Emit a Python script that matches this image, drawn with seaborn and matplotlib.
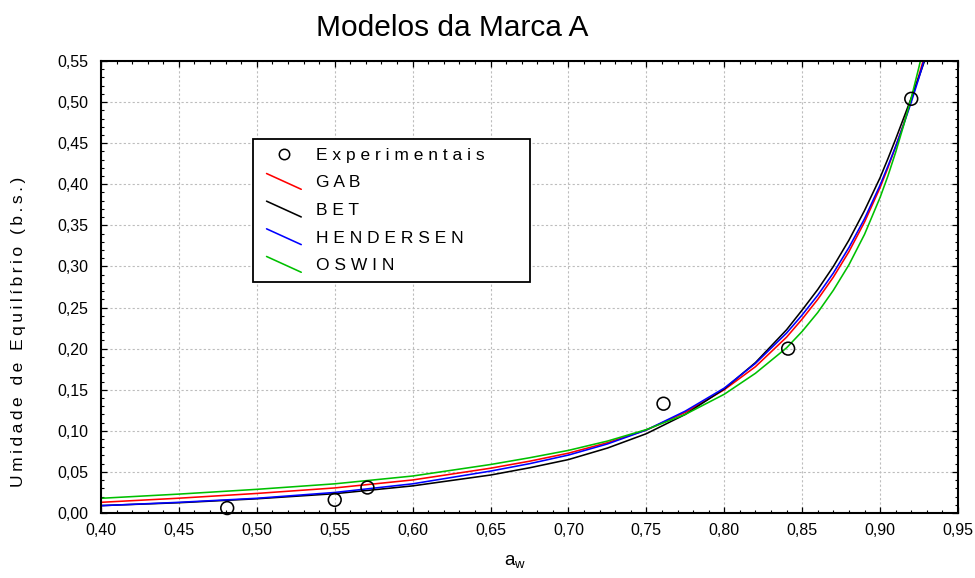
import numpy as np
import pandas as pd
import matplotlib
matplotlib.use("Agg")
import matplotlib.pyplot as plt
import seaborn as sns
from matplotlib.lines import Line2D
from matplotlib.legend_handler import HandlerLine2D
from matplotlib.ticker import FixedLocator, MultipleLocator

# ---------------- data ----------------
exp_aw = [0.481, 0.550, 0.571, 0.761, 0.841, 0.920]
exp_M = [0.006, 0.016, 0.031, 0.133, 0.200, 0.504]

aw_grid = [0.40, 0.45, 0.50, 0.55, 0.60, 0.65, 0.675, 0.70, 0.725, 0.75, 0.775, 0.80, 0.82,
           0.84, 0.85, 0.86, 0.87, 0.88, 0.89, 0.90, 0.905, 0.91, 0.915, 0.92, 0.925, 0.93]

gab_M = [0.0130, 0.0180, 0.0238, 0.0305, 0.0402, 0.0545, 0.0630, 0.0728, 0.0855, 0.1010, 0.1225,
         0.150, 0.178, 0.214, 0.236, 0.260, 0.287, 0.318, 0.354, 0.396, 0.420, 0.446, 0.473,
         0.502, 0.533, 0.566]
bet_M = [0.0090, 0.0125, 0.0173, 0.0235, 0.0330, 0.0462, 0.0550, 0.0650, 0.0790, 0.0965, 0.1200,
         0.151, 0.183, 0.223, 0.247, 0.272, 0.300, 0.332, 0.368, 0.408, 0.431, 0.455, 0.480,
         0.505, 0.531, 0.558]
hen_M = [0.0089, 0.0130, 0.0179, 0.0250, 0.0355, 0.0510, 0.0600, 0.0705, 0.0840, 0.1010, 0.1240,
         0.152, 0.182, 0.219, 0.241, 0.265, 0.292, 0.323, 0.358, 0.399, 0.422, 0.446, 0.472,
         0.500, 0.530, 0.562]
osw_M = [0.0179, 0.0230, 0.0288, 0.0355, 0.0450, 0.0590, 0.0672, 0.0762, 0.0875, 0.1015, 0.1200,
         0.1445, 0.170, 0.201, 0.221, 0.244, 0.271, 0.302, 0.339, 0.384, 0.410, 0.439, 0.471,
         0.505, 0.543, 0.585]

model_names = ["GAB", "BET", "HENDERSEN", "OSWIN"]
model_colors = ["#ff0000", "#000000", "#0000ff", "#00c000"]

x_ticks = [0.40, 0.45, 0.50, 0.55, 0.60, 0.65, 0.70, 0.75, 0.80, 0.85, 0.90, 0.95]
x_tick_labels = ["0,40", "0,45", "0,50", "0,55", "0,60", "0,65", "0,70", "0,75",
                 "0,80", "0,85", "0,90", "0,95"]
y_ticks = [0.00, 0.05, 0.10, 0.15, 0.20, 0.25, 0.30, 0.35, 0.40, 0.45, 0.50, 0.55]
y_tick_labels = ["0,00", "0,05", "0,10", "0,15", "0,20", "0,25", "0,30", "0,35",
                 "0,40", "0,45", "0,50", "0,55"]

title_text = "Modelos da Marca A"
ylabel_text = "Umidade de Equilíbrio (b.s.)"
exp_label = "Experimentais"

# ---------------- styling ----------------
sns.set_style("ticks")
plt.rcParams["font.family"] = ["Liberation Sans", "DejaVu Sans"]
plt.rcParams["mathtext.fontset"] = "custom"
plt.rcParams["mathtext.rm"] = "Liberation Sans"
plt.rcParams["mathtext.it"] = "Liberation Sans"
plt.rcParams["text.color"] = "black"
plt.rcParams["axes.labelcolor"] = "black"
plt.rcParams["xtick.color"] = "black"
plt.rcParams["ytick.color"] = "black"


def spaced(s, sep=" "):
    return sep.join(list(s))


fig = plt.figure(figsize=(9.75, 5.78), dpi=100)
ax = fig.add_axes([101 / 975, 1 - 513 / 578, (958 - 101) / 975, (513 - 61) / 578])

df = pd.DataFrame({
    "aw": np.tile(aw_grid, 4),
    "M": np.concatenate([gab_M, bet_M, hen_M, osw_M]),
    "Modelo": np.repeat(model_names, len(aw_grid)),
})
sns.lineplot(data=df, x="aw", y="M", hue="Modelo", hue_order=model_names,
             palette=dict(zip(model_names, model_colors)), sort=False,
             estimator=None, legend=False, linewidth=1.15, ax=ax)

sns.scatterplot(x=exp_aw, y=exp_M, marker="o", s=85, facecolor="none",
                edgecolor="black", linewidth=1.15, ax=ax, zorder=5, clip_on=False)

ax.set_xlim(0.40, 0.95)
ax.set_ylim(0.0, 0.55)
ax.xaxis.set_major_locator(FixedLocator(x_ticks))
ax.yaxis.set_major_locator(FixedLocator(y_ticks))
ax.set_xticklabels(x_tick_labels)
ax.set_yticklabels(y_tick_labels)
ax.xaxis.set_minor_locator(MultipleLocator(0.01))
ax.yaxis.set_minor_locator(MultipleLocator(0.01))
ax.tick_params(which="both", direction="in", top=True, right=True, colors="black",
               labelsize=11.5)
ax.tick_params(axis="x", which="major", pad=7)
ax.tick_params(axis="y", which="major", pad=9)
ax.tick_params(which="major", length=4, width=0.9)
ax.tick_params(which="minor", length=2.2, width=0.8)
for sp in ax.spines.values():
    sp.set_visible(True)
    sp.set_linewidth(1.5)
    sp.set_color("black")
ax.grid(True, which="major", linestyle=(0, (2, 2)), color="#bdbdbd", linewidth=0.8)
ax.set_axisbelow(True)
ax.set_xlabel("")
ax.set_ylabel("")

fig.text(452 / 975, 1 - 28 / 578, title_text, ha="center", va="center", fontsize=21.5)
fig.text(515 / 975, 1 - 562 / 578, r"a$_{\mathrm{w}}$", ha="center", va="center", fontsize=13.5)
fig.text(19 / 975, 1 - 332 / 578, spaced(ylabel_text, "\u2009"), rotation=90, ha="center",
         va="center", fontsize=12.5)

HANDLE_SHIFT = 3.5  # points


class DiagonalLineHandler(HandlerLine2D):
    def create_artists(self, legend, orig_handle, xdescent, ydescent, width, height,
                       fontsize, trans):
        x0 = -xdescent + HANDLE_SHIFT
        y0 = -ydescent
        line = Line2D([x0, x0 + width], [y0 + height * 1.15, y0 - height * 0.15])
        line.set_color(orig_handle.get_color())
        line.set_linewidth(orig_handle.get_linewidth())
        line.set_transform(trans)
        return [line]


class ShiftedMarkerHandler(HandlerLine2D):
    def create_artists(self, legend, orig_handle, xdescent, ydescent, width, height,
                       fontsize, trans):
        x0 = -xdescent + HANDLE_SHIFT
        y0 = -ydescent
        m = Line2D([x0 + width / 2], [y0 + height / 2], marker="o", linestyle="none",
                   markerfacecolor="none", markeredgecolor="black",
                   markersize=orig_handle.get_markersize(),
                   markeredgewidth=orig_handle.get_markeredgewidth())
        m.set_transform(trans)
        return [m]


exp_handle = Line2D([], [], marker="o", linestyle="none", markerfacecolor="none",
                    markeredgecolor="black", markersize=7.5, markeredgewidth=1.1)
handles = [exp_handle]
labels = [spaced(exp_label)]
handler_map = {exp_handle: ShiftedMarkerHandler()}
for name, col in zip(model_names, model_colors):
    h = Line2D([], [], color=col, linewidth=1.15)
    handles.append(h)
    labels.append(spaced(name))
    handler_map[h] = DiagonalLineHandler()

x0 = (253 - 101) / 857
y1 = (513 - 139) / 452
w = (530 - 253) / 857
hgt = (278 - 139) / 452
leg = ax.legend(handles, labels, handler_map=handler_map, loc="upper left",
                bbox_to_anchor=(x0, y1 - hgt, w, hgt), mode="expand", borderaxespad=0,
                fontsize=12.5, frameon=True, fancybox=False, shadow=False,
                handlelength=2.0, handletextpad=1.1, labelspacing=0.72,
                borderpad=0.5)
frame = leg.get_frame()
frame.set_edgecolor("black")
frame.set_linewidth(1.3)
frame.set_facecolor("white")
frame.set_alpha(1)

fig.savefig("out.png", dpi=100)
